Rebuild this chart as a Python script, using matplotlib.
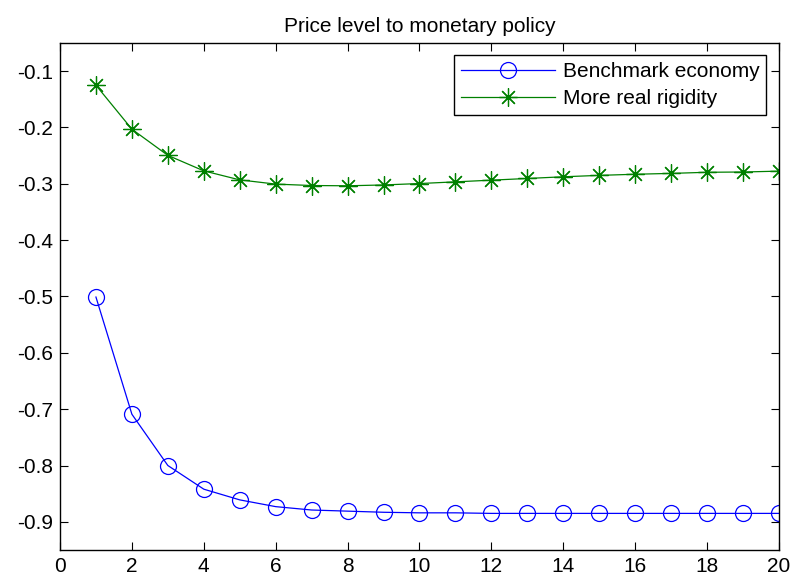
import matplotlib.pyplot as plt

plt.rcParams["font.family"] = ["Liberation Sans", "DejaVu Sans"]

# impulse responses of the price level, quarters 1..20
periods = list(range(1, 21))
benchmark = [-0.501, -0.709, -0.800, -0.842, -0.861, -0.873, -0.879, -0.881, -0.883, -0.884,
             -0.884, -0.885, -0.885, -0.885, -0.885, -0.885, -0.885, -0.885, -0.885, -0.885]
real_rigidity = [-0.125, -0.203, -0.2495, -0.277, -0.293, -0.3005, -0.303, -0.3035, -0.302, -0.2995,
                 -0.2965, -0.2935, -0.2905, -0.2875, -0.285, -0.283, -0.2815, -0.2795, -0.279, -0.2775]

x_ticks = list(range(0, 21, 2))
y_ticks = [-0.9, -0.8, -0.7, -0.6, -0.5, -0.4, -0.3, -0.2, -0.1]


fig = plt.figure(figsize=(7.99, 5.88), dpi=100)
ax = fig.add_axes([0.0751, 0.0646, 0.8998, 0.8623])

ax.plot(periods, benchmark, color=(0, 0, 1), linewidth=0.9, marker="o",
        markersize=11.5, markerfacecolor="none", markeredgewidth=0.9, label="Benchmark economy")
ax.plot(periods, real_rigidity, color=(0, 0.5, 0), linewidth=0.9, marker=(8, 2, 0),
        markersize=13, markeredgewidth=0.9, label="More real rigidity")

ax.set_xlim(0, 20)
ax.set_ylim(-0.95, -0.05)
ax.set_xticks(x_ticks)
ax.set_yticks(y_ticks)
ax.set_yticklabels([f"{v:g}" for v in y_ticks])
ax.tick_params(direction="in", length=6, width=0.8, top=True, right=True,
               labelsize=15, pad=5)
for s in ax.spines.values():
    s.set_linewidth(1.0)

ax.set_title("Price level to monetary policy", fontsize=15, pad=8)

leg = ax.legend(loc="upper right", fontsize=15, fancybox=False, edgecolor="black",
                framealpha=1, borderpad=0.32, handlelength=4.5, labelspacing=0.4,
                borderaxespad=0.6, handletextpad=0.4)
leg.get_frame().set_linewidth(1.0)

fig.savefig("out.png", dpi=100)
